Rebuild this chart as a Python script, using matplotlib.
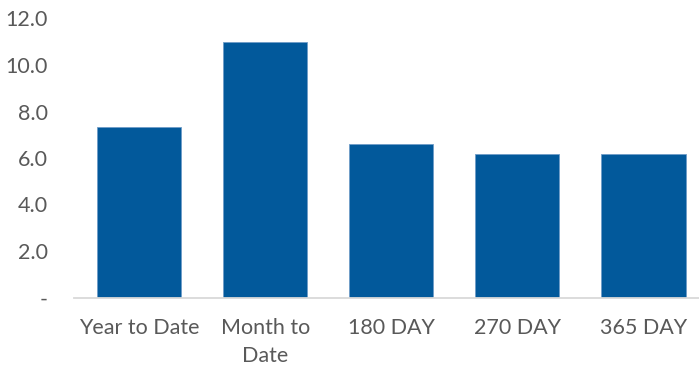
import matplotlib
matplotlib.use("Agg")
import matplotlib.pyplot as plt

categories = ["Year to Date", "Month to\nDate", "180 DAY", "270 DAY", "365 DAY"]
values = [7.35, 10.97, 6.59, 6.16, 6.16]
yticks = [0, 2, 4, 6, 8, 10, 12]
ytick_labels = ["-", "2.0", "4.0", "6.0", "8.0", "10.0", "12.0"]

plt.rcParams["font.family"] = ["Lato", "DejaVu Sans"]
text_color = "#595959"
bar_color = "#02599B"

fig = plt.figure(figsize=(6.99, 3.66), dpi=100)
ax = fig.add_axes([74.3 / 699, 1 - 297.5 / 366, (699 - 74.3) / 699, (297.5 - 18.5) / 366])

x = list(range(len(categories)))
ax.bar(x, values, width=0.667, color=bar_color, edgecolor="#6F9CC8", linewidth=0.6, zorder=2)

ax.set_xlim(-0.513, 4.44)
ax.set_ylim(0, 12)
ax.set_yticks(yticks)
ax.set_yticklabels(ytick_labels)
ax.set_xticks(x)
ax.set_xticklabels(categories, linespacing=1.5)

for side in ("top", "right", "left"):
    ax.spines[side].set_visible(False)
ax.spines["bottom"].set_color("#D9D9D9")
ax.spines["bottom"].set_linewidth(1.3)

ax.tick_params(axis="both", length=0, colors=text_color, labelsize=15.5)
ax.tick_params(axis="y", pad=19)
ax.tick_params(axis="x", pad=15)

fig.savefig("out.png", dpi=100)
